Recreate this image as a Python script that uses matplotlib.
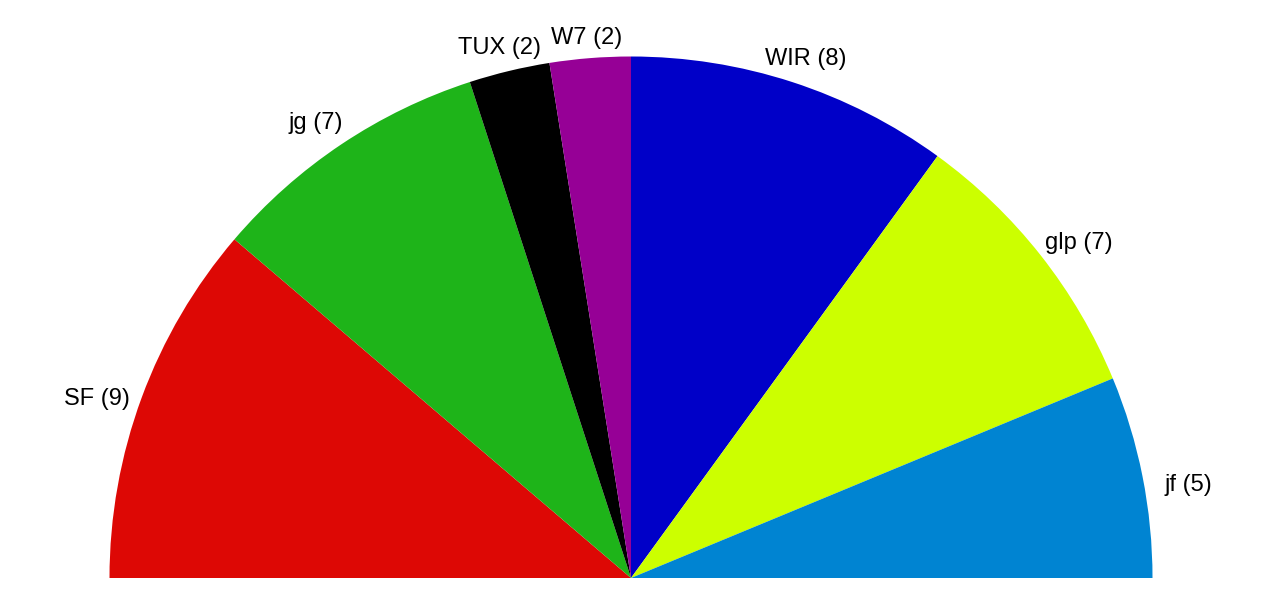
import numpy as np
import matplotlib.pyplot as plt

# parties left to right, seats
parties = ['SF', 'jg', 'TUX', 'W7', 'WIR', 'glp', 'jf']
seats = [9, 7, 2, 2, 8, 7, 5]
colors = ['#dd0805', '#1eb419', '#000000', '#960096', '#0000c8', '#ccff00', '#0084d2']

plt.rcParams['font.family'] = ['Liberation Sans', 'DejaVu Sans']

W, H = 1279, 606
cx, cy, R = 631, 578, 521.5   # centre / radius in pixels

fig = plt.figure(figsize=(W / 100, H / 100), dpi=100)
ax = fig.add_axes([0, 0, 1, 1])

total = sum(seats)
# invisible lower half so the pie becomes a half circle
wedges, _ = ax.pie(seats + [total], colors=colors + ['none'],
                   startangle=180, counterclock=False,
                   radius=1, center=(0, 0),
                   wedgeprops=dict(linewidth=0))

ax.set_xlim(-cx / R, (W - cx) / R)
ax.set_ylim(-(H - cy) / R, cy / R)
ax.set_aspect('equal')
ax.axis('off')

# labels: centred near the mid-angle, pushed out and slightly down at the sides
start = 180.0
for name, n in zip(parties, seats):
    span = 180.0 * n / total
    mid_deg = start - span / 2
    start -= span
    c = np.cos(np.radians(mid_deg))
    ang = np.radians(mid_deg - 1.6 * c)
    rl = 1.04 + 0.045 * abs(c)
    ax.text(rl * np.cos(ang), rl * np.sin(ang) - 2 / R, f'{name} ({n})',
            ha='center', va='center', fontsize=17, color='black')

fig.savefig('out.png', dpi=100)
